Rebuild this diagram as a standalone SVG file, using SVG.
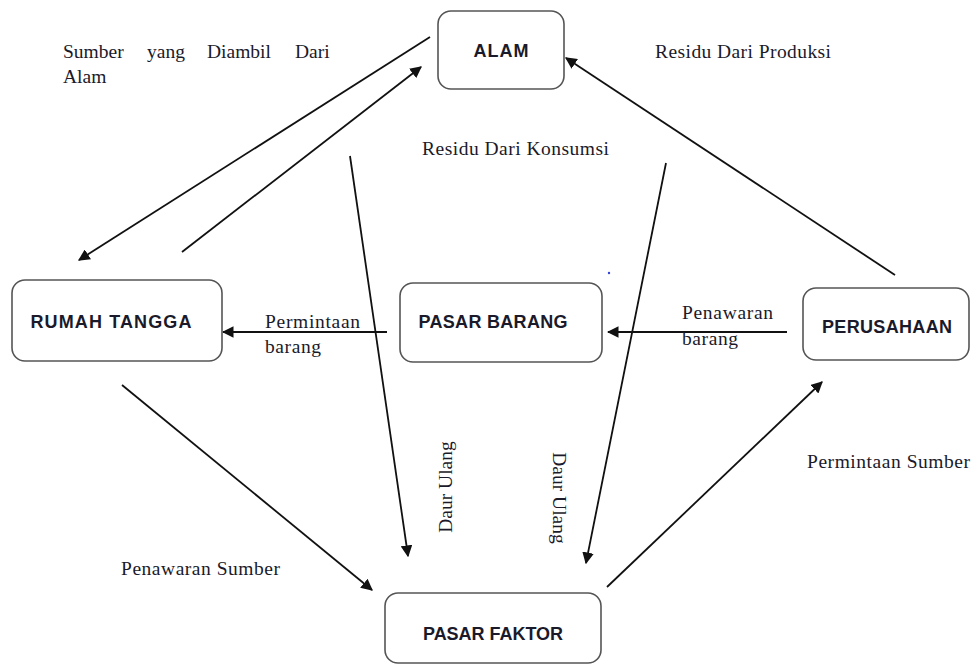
<svg xmlns="http://www.w3.org/2000/svg" width="971" height="666" viewBox="0 0 971 666">
<style>
.box{fill:#fff;stroke:#555;stroke-width:1.6}
.nl{font-family:"Liberation Sans",Arial,sans-serif;font-weight:bold;font-size:18px;fill:#1a1a2a;text-anchor:middle}
.lb{font-family:"Liberation Serif","Times New Roman",serif;font-size:19.5px;fill:#1a1a2a}
.ln{stroke:#111;stroke-width:1.8;fill:none;marker-end:url(#ah)}
</style>
<defs>
<marker id="ah" viewBox="0 0 10 10" refX="9" refY="5" markerWidth="6.5" markerHeight="6.5" markerUnits="strokeWidth" orient="auto">
<path d="M0,0 L10,5 L0,10 z" fill="#111"/>
</marker>
</defs>
<rect width="971" height="666" fill="#fff"/>
<g id="connectors">
<line class="ln" x1="430" y1="37" x2="79" y2="260"/>
<line class="ln" x1="182" y1="252" x2="421" y2="67"/>
<line class="ln" x1="895" y1="275" x2="566" y2="58"/>
<line class="ln" x1="350" y1="156" x2="408" y2="556"/>
<line class="ln" x1="666" y1="163" x2="586" y2="563"/>
<line class="ln" x1="387" y1="332" x2="223" y2="332"/>
<line class="ln" x1="787" y1="332" x2="608" y2="332"/>
<line class="ln" x1="122" y1="385" x2="372" y2="590"/>
<line class="ln" x1="607" y1="587" x2="822" y2="382"/>
</g>
<g id="alam"><rect class="box" x="438" y="11" width="126" height="78" rx="13"/><text class="nl" x="501" y="57" textLength="55">ALAM</text></g>
<g id="rumah-tangga"><rect class="box" x="12" y="280" width="210" height="81" rx="13"/><text class="nl" x="111" y="328" textLength="161">RUMAH TANGGA</text></g>
<g id="pasar-barang"><rect class="box" x="400" y="283" width="202" height="79" rx="13"/><text class="nl" x="493" y="328" textLength="149">PASAR BARANG</text></g>
<g id="perusahaan"><rect class="box" x="803" y="288" width="166" height="72" rx="13"/><text class="nl" x="887" y="333" textLength="130">PERUSAHAAN</text></g>
<g id="pasar-faktor"><rect class="box" x="385" y="593" width="216" height="70" rx="13"/><text class="nl" x="493" y="640" textLength="140">PASAR FAKTOR</text></g>
<g id="labels">
<text class="lb" y="58"><tspan x="63">Sumber</tspan><tspan x="147">yang</tspan><tspan x="207">Diambil</tspan><tspan x="295">Dari</tspan></text>
<text class="lb" x="63" y="83">Alam</text>
<text class="lb" x="655" y="58" textLength="176">Residu Dari Produksi</text>
<text class="lb" x="422" y="155" textLength="187">Residu Dari Konsumsi</text>
<text class="lb" x="265" y="328" textLength="95">Permintaan</text>
<text class="lb" x="265" y="353" textLength="56">barang</text>
<text class="lb" x="682" y="319" textLength="91">Penawaran</text>
<text class="lb" x="682" y="345" textLength="56">barang</text>
<text class="lb" x="121" y="575" textLength="159">Penawaran Sumber</text>
<text class="lb" x="807" y="468" textLength="163">Permintaan Sumber</text>
<text class="lb" text-anchor="middle" transform="translate(452,487) rotate(-90)">Daur Ulang</text>
<text class="lb" text-anchor="middle" transform="translate(553,498) rotate(90)">Daur Ulang</text>
<circle cx="609" cy="273" r="1.2" fill="#3344dd"/>
</g>
</svg>
